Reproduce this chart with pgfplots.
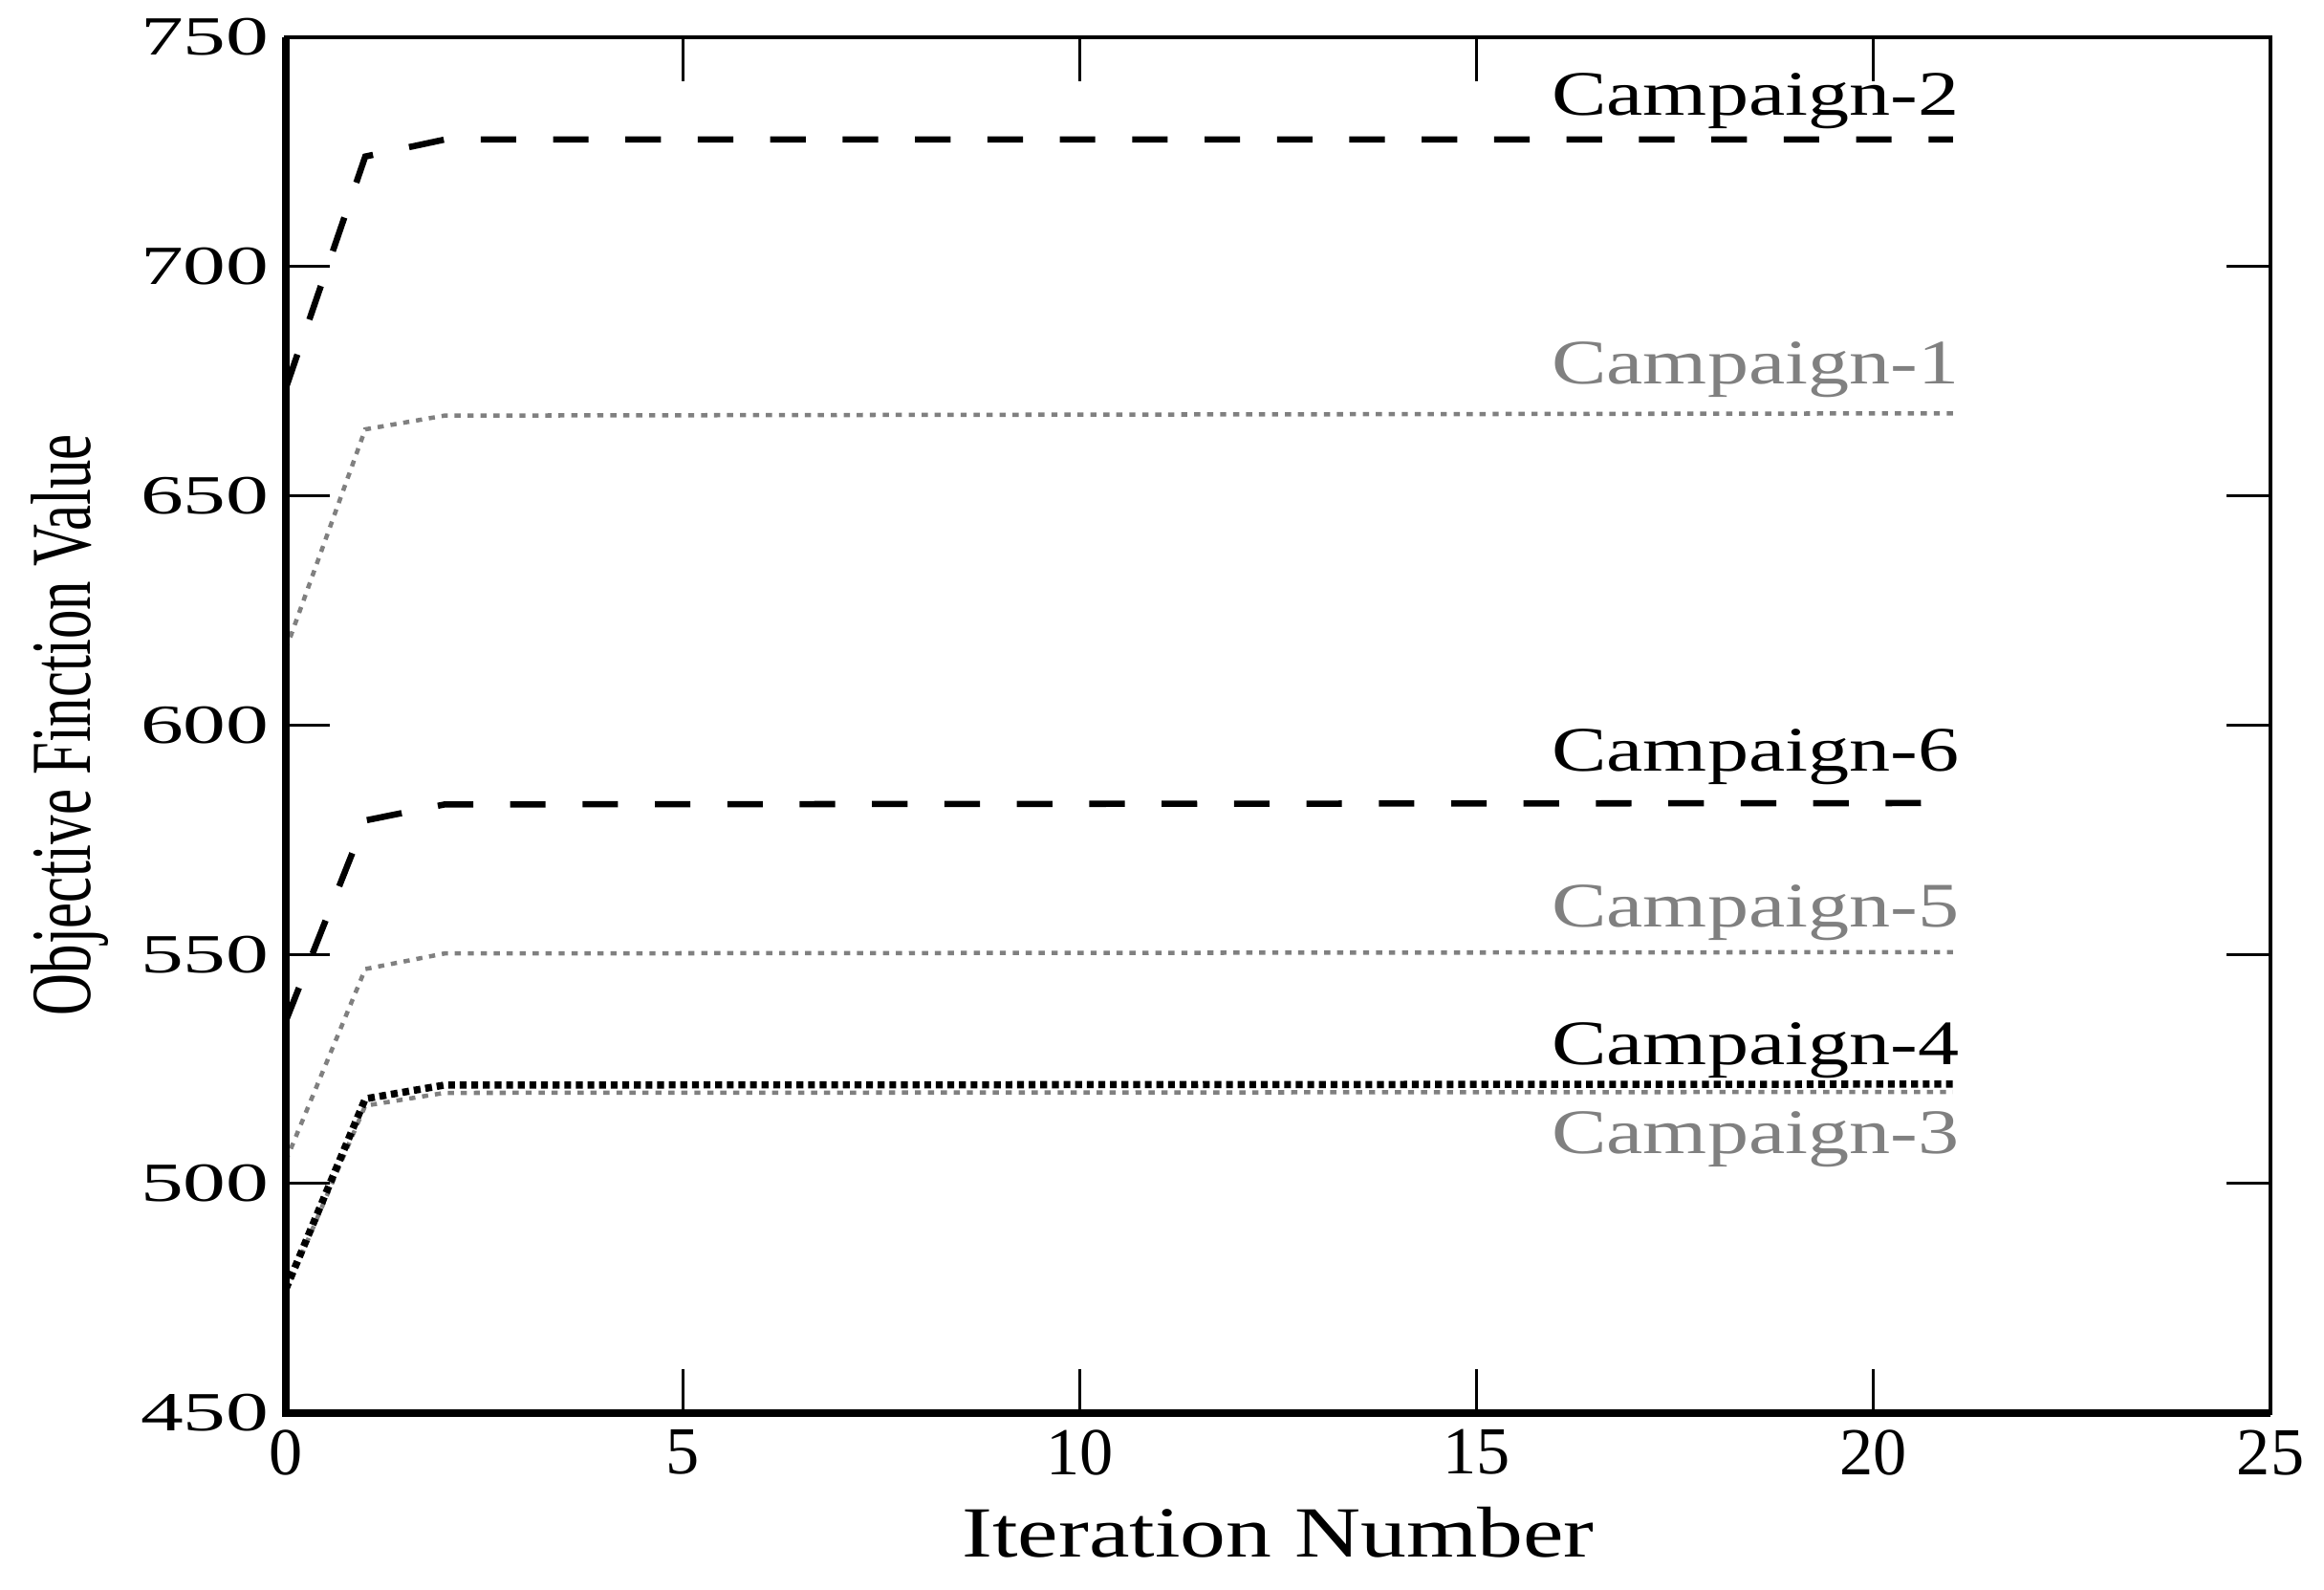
\documentclass[border=0pt]{standalone}
\usepackage{fontspec}
\setmainfont{Liberation Serif}
\usepackage{pgfplots}
\pgfplotsset{compat=1.18}
\definecolor{campgray}{RGB}{128,128,128}

\begin{document}
\begin{tikzpicture}
\begin{axis}[
  width=14.53cm, height=10.07cm, scale only axis,
  xmin=0, xmax=25, ymin=450, ymax=750,
  xtick={0,5,...,25}, ytick={450,500,...,750},
  tick align=inside, major tick length=0.32cm,
  axis line style={line width=0.7pt},
  tick style={line width=0.6pt, black},
  /pgf/number format/assume math mode=true,
  xticklabel style={font=\fontsize{14}{16}\selectfont},
  yticklabel={\scalebox{1.55}[1]{\pgfmathprintnumber{\tick}}},
  yticklabel style={font=\fontsize{11.5}{13}\selectfont},
  xlabel={\scalebox{1.27}[1]{Iteration Number}},
  xlabel style={font=\fontsize{15}{17}\selectfont, at={(axis description cs:0.5,-0.087)}, anchor=center},
  ylabel={\scalebox{0.68}[1]{Objective Finction Value}},
  ylabel style={font=\fontsize{17.8}{20}\selectfont, at={(axis description cs:-0.109,0.5)}, anchor=center},
  clip=false,
]
% campaign 2 and 6: black dashed
\addplot[black, line width=1.3pt, dash pattern=on 0.26cm off 0.27cm] coordinates {(0,673.5) (1,724) (2,727.7) (21,727.7)};
\addplot[black, line width=1.3pt, dash pattern=on 0.26cm off 0.27cm] coordinates {(0,535.5) (1,579.2) (2,582.7) (21,583)};
% campaign 1, 5, 3: gray dotted
\addplot[campgray, line width=0.9pt, dash pattern=on 0.045cm off 0.05cm] coordinates {(0,616.5) (1,664.5) (2,667.5) (21,668)};
\addplot[campgray, line width=0.9pt, dash pattern=on 0.045cm off 0.05cm] coordinates {(0,505) (1,546.8) (2,550.2) (21,550.5)};
\addplot[campgray, line width=0.9pt, dash pattern=on 0.045cm off 0.05cm] coordinates {(0,476.5) (1,517) (2,519.8) (21,520)};
% campaign 4: black dotted
\addplot[black, line width=1.5pt, dash pattern=on 0.05cm off 0.035cm] coordinates {(0,477) (1,518.5) (2,521.5) (21,521.7)};

\begin{scope}[font=\fontsize{13.2}{15}\selectfont]
\node[anchor=base east, black] at (axis cs:21.29,733) {\scalebox{1.3}[1]{Campaign-2}};
\node[anchor=base east, campgray] at (axis cs:21.29,674.5) {\scalebox{1.3}[1]{Campaign-1}};
\node[anchor=base east, black] at (axis cs:21.29,590) {\scalebox{1.3}[1]{Campaign-6}};
\node[anchor=base east, campgray] at (axis cs:21.29,556) {\scalebox{1.3}[1]{Campaign-5}};
\node[anchor=base east, black] at (axis cs:21.29,526) {\scalebox{1.3}[1]{Campaign-4}};
\node[anchor=base east, campgray] at (axis cs:21.29,506.5) {\scalebox{1.3}[1]{Campaign-3}};
\end{scope}

\draw[line width=1.6pt] (rel axis cs:0,1) -- (rel axis cs:0,0) -- (rel axis cs:1,0);
\end{axis}
\path (-2.093cm,-1.295cm) rectangle (14.922cm,10.343cm);
\end{tikzpicture}
\end{document}
